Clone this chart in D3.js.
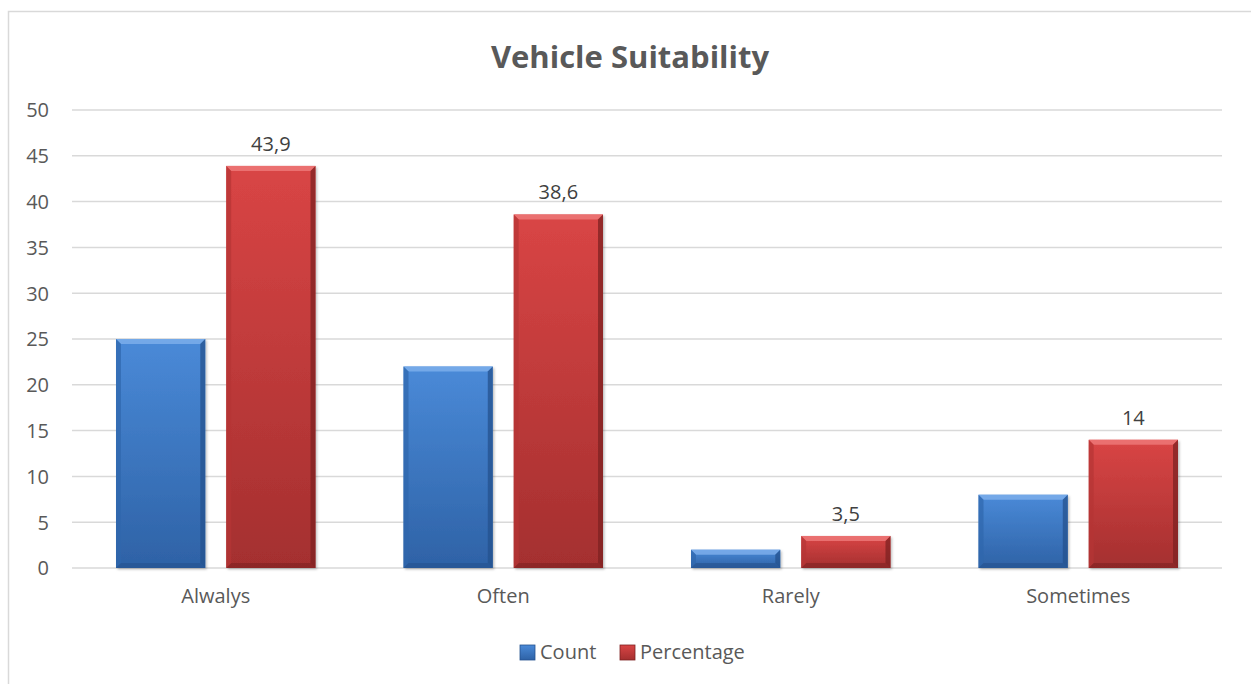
<!DOCTYPE html>
<html>
<head>
<meta charset="utf-8">
<script src="https://cdnjs.cloudflare.com/ajax/libs/d3/7.8.5/d3.min.js"></script>
<style>
  html, body { margin: 0; padding: 0; background: #fff; }
  svg { display: block; font-family: "Open Sans", "Noto Sans", sans-serif; }
</style>
</head>
<body>
<svg id="chart" width="1251" height="684"></svg>
<script>
// Survey answers: how often the vehicle suits the need
const categories = ["Alwalys", "Often", "Rarely", "Sometimes"];
const countValues = [25, 22, 2, 8];
const percentageValues = [43.9, 38.6, 3.5, 14];
const seriesNames = ["Count", "Percentage"];
const yTicks = [0, 5, 10, 15, 20, 25, 30, 35, 40, 45, 50];

const W = 1251, H = 684;
const margin = { left: 72, right: 29, top: 110, bottom: 116 };
const svg = d3.select("#chart");

// chart frame
svg.append("rect")
  .attr("x", 8.5).attr("y", 11.5)
  .attr("width", W + 20).attr("height", H + 20)
  .attr("fill", "#fff").attr("stroke", "#d9d9d9").attr("stroke-width", 1.5);

const x0 = d3.scaleBand().domain(categories)
  .range([margin.left, W - margin.right]).paddingInner(0).paddingOuter(0);
const x1 = d3.scaleBand().domain(seriesNames)
  .range([44, x0.bandwidth() - 44]).paddingInner(0.19).paddingOuter(0);
const y = d3.scaleLinear().domain([0, 50]).range([H - margin.bottom, margin.top]);

// gradients per series
const defs = svg.append("defs");
const palette = {
  Count: { top: "#4a8ad8", bottom: "#2e62a6", light: "#7fb0ec", dark: "#24528e", side: "#2f66ad" },
  Percentage: { top: "#d94545", bottom: "#a42f2f", light: "#ef7b7b", dark: "#7e2222", side: "#b53535" }
};
Object.entries(palette).forEach(([k, c]) => {
  const g = defs.append("linearGradient").attr("id", "grad-" + k)
    .attr("x1", 0).attr("y1", 0).attr("x2", 0).attr("y2", 1);
  g.append("stop").attr("offset", "0%").attr("stop-color", c.top);
  g.append("stop").attr("offset", "100%").attr("stop-color", c.bottom);
});
const shadow = defs.append("filter").attr("id", "shadow")
  .attr("x", "-10%").attr("y", "-10%").attr("width", "130%").attr("height", "130%");
shadow.append("feDropShadow").attr("dx", 1.5).attr("dy", 1.5)
  .attr("stdDeviation", 1.2).attr("flood-color", "#000").attr("flood-opacity", 0.25);

// gridlines
svg.append("g").selectAll("line").data(yTicks).join("line")
  .attr("x1", margin.left).attr("x2", W - margin.right)
  .attr("y1", d => y(d)).attr("y2", d => y(d))
  .attr("stroke", "#d9d9d9").attr("stroke-width", 1.5);

// y axis labels
const yAxis = svg.append("g")
  .attr("transform", `translate(${margin.left - 23},0)`)
  .call(d3.axisLeft(y).tickValues(yTicks).tickSize(0).tickPadding(0));
yAxis.select(".domain").remove();
yAxis.selectAll("text")
  .attr("font-size", 20).attr("fill", "#595959")
  .attr("font-family", "'Open Sans', sans-serif").attr("text-anchor", "end")
  .attr("dy", "0.34em");

// x axis labels
const xAxis = svg.append("g")
  .attr("transform", `translate(0,${y(0)})`)
  .call(d3.axisBottom(x0).tickSize(0).tickPadding(21));
xAxis.select(".domain").remove();
xAxis.selectAll("text")
  .attr("font-size", 20).attr("fill", "#595959")
  .attr("font-family", "'Open Sans', sans-serif");

// bars
const rows = categories.map((c, i) => ({
  cat: c,
  items: [
    { key: "Count", value: countValues[i] },
    { key: "Percentage", value: percentageValues[i] }
  ]
}));

const bev = 5;
const groups = svg.append("g").selectAll("g").data(rows).join("g")
  .attr("transform", d => `translate(${x0(d.cat)},0)`);

const bars = groups.selectAll("g.bar").data(d => d.items).join("g").attr("class", "bar");
bars.each(function (d) {
  const g = d3.select(this);
  const c = palette[d.key];
  const x = x1(d.key), w = x1.bandwidth();
  const top = y(d.value), bot = y(0), h = bot - top;
  const b = Math.min(bev, h / 2);
  g.append("rect").attr("x", x).attr("y", top).attr("width", w).attr("height", h)
    .attr("fill", `url(#grad-${d.key})`).attr("filter", "url(#shadow)");
  // bevel edges
  g.append("polygon")
    .attr("points", [[x, top], [x + w, top], [x + w - b, top + b], [x + b, top + b]].join(" "))
    .attr("fill", c.light).attr("opacity", 0.8);
  g.append("polygon")
    .attr("points", [[x, top], [x + b, top + b], [x + b, bot - b], [x, bot]].join(" "))
    .attr("fill", c.side).attr("opacity", 0.7);
  g.append("polygon")
    .attr("points", [[x + w, top], [x + w, bot], [x + w - b, bot - b], [x + w - b, top + b]].join(" "))
    .attr("fill", c.dark).attr("opacity", 0.75);
  g.append("polygon")
    .attr("points", [[x, bot], [x + b, bot - b], [x + w - b, bot - b], [x + w, bot]].join(" "))
    .attr("fill", c.dark).attr("opacity", 0.6);
});

// data labels on the percentage series
const fmt = v => String(v).replace(".", ",");
groups.append("text")
  .datum((d, i) => percentageValues[i])
  .attr("x", x1("Percentage") + x1.bandwidth() / 2)
  .attr("y", d => y(d) - 15)
  .attr("text-anchor", "middle")
  .attr("font-size", 20).attr("fill", "#404040")
  .text(d => fmt(d));

// title
svg.append("text")
  .attr("x", 630).attr("y", 68)
  .attr("text-anchor", "middle")
  .attr("font-size", 31).attr("font-weight", "bold").attr("fill", "#595959")
  .text("Vehicle Suitability");

// legend
const legend = svg.append("g").attr("transform", "translate(520,652)");
const legendX = [0, 100];
seriesNames.forEach((n, i) => {
  const lg = legend.append("g").attr("transform", `translate(${legendX[i]},0)`);
  lg.append("rect").attr("x", 0).attr("y", -7).attr("width", 15).attr("height", 15)
    .attr("fill", `url(#grad-${n})`).attr("stroke", palette[n].dark).attr("stroke-width", 0.8);
  lg.append("text").attr("x", 20).attr("y", 0).attr("dy", "0.35em")
    .attr("font-size", 20).attr("fill", "#595959").text(n);
});
</script>
</body>
</html>
